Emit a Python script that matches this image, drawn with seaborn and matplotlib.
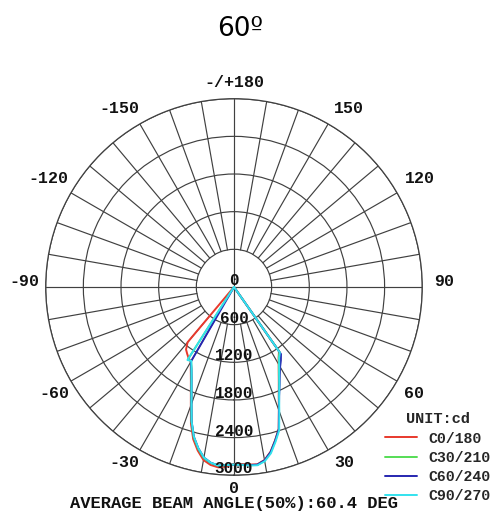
import numpy as np
import pandas as pd
import matplotlib
matplotlib.use("Agg")
import matplotlib.pyplot as plt
import seaborn as sns

# gamma angles (deg) of each half plane, intensities in cd
gamma = [0, 2.5, 5, 7.5, 10, 12.5, 15, 17.5, 20, 22.5, 25, 27.5, 30, 32.5, 35, 37.5, 40, 42.5]

c0 = [2820, 2825, 2840, 2850, 2800, 2690, 2530, 2370, 2090, 1865, 1690, 1545, 1425, 1325, 1250, 0, 0, 0]
c180 = [2820, 2865, 2885, 2860, 2800, 2670, 2510, 2280, 2010, 1795, 1625, 1490, 1375, 1345, 1300, 1255, 1150, 0]
c30 = [2830, 2835, 2850, 2860, 2810, 2700, 2540, 2380, 2100, 1870, 1700, 1550, 1430, 1330, 1265, 0, 0, 0]
c210 = [2830, 2840, 2860, 2830, 2770, 2640, 2480, 2250, 1985, 1775, 1605, 1470, 1365, 1365, 0, 0, 0, 0]
c60 = [2830, 2835, 2850, 2855, 2805, 2695, 2535, 2375, 2095, 1880, 1720, 1580, 1470, 1390, 1305, 0, 0, 0]
c240 = [2830, 2840, 2855, 2825, 2760, 2630, 2470, 2245, 1980, 1770, 1600, 1470, 1375, 0, 0, 0, 0, 0]
c90 = [2835, 2840, 2855, 2865, 2820, 2715, 2555, 2395, 2110, 1880, 1710, 1560, 1440, 1340, 1275, 0, 0, 0]
c270 = [2830, 2840, 2855, 2825, 2760, 2630, 2470, 2245, 1980, 1770, 1600, 1465, 1360, 1380, 0, 0, 0, 0]

planes = ["C0/180", "C30/210", "C60/240", "C90/270"]
halves = {"C0/180": (c0, c180), "C30/210": (c30, c210),
          "C60/240": (c60, c240), "C90/270": (c90, c270)}
colors = ["#e8392c", "#55dd55", "#2626b0", "#33e2ee"]

ring_values = [600, 1200, 1800, 2400, 3000]
angle_labels = ["0", "30", "60", "90", "120", "150", "-/+180",
                "-150", "-120", "-90", "-60", "-30"]
# where each angle label sits (deg, radius in cd units)
label_pos = [(0, 3218), (32, 3306), (59.5, 3330), (91.4, 3346), (120.3, 3425),
             (147.2, 3378), (180, 3250), (212.8, 3378), (239.7, 3425),
             (268.6, 3346), (300.5, 3330), (328, 3306)]

rows = []
for name in planes:
    right, left = halves[name]
    th = [-g for g in gamma[::-1]] + gamma[1:]
    cd = left[::-1] + right[1:]
    for t, v in zip(th, cd):
        rows.append({"theta": np.deg2rad(t), "cd": v, "plane": name})
df = pd.DataFrame(rows)

sns.set_theme(style="white")
mono = "Liberation Mono"
grid_c = "#404040"

fig = plt.figure(figsize=(4.94, 5.11), dpi=100)
ax = fig.add_axes([0.0925, 0.0699, 0.7623, 0.737], projection="polar")
ax.set_theta_zero_location("S")
ax.set_theta_direction(1)

sns.lineplot(data=df, x="theta", y="cd", hue="plane", hue_order=planes,
             palette=colors, sort=False, estimator=None, linewidth=1.4,
             legend=False, ax=ax, zorder=3)
curves = list(ax.get_lines())

ax.set_ylim(0, 3000)
ax.set_yticks(ring_values)
ax.set_yticklabels([])
ax.yaxis.grid(True, color=grid_c, linewidth=0.85)
ax.xaxis.grid(False)
ax.spines["polar"].set_color(grid_c)
ax.spines["polar"].set_linewidth(0.9)
ax.set_xlabel("")
ax.set_ylabel("")

# spokes every 10 deg, only the axes cross the centre
for a in range(0, 360, 10):
    r0 = 0 if a % 90 == 0 else 600
    ax.plot([np.deg2rad(a)] * 2, [r0, 3000], color=grid_c, lw=0.85, zorder=1)

ax.set_xticks(np.deg2rad(range(0, 360, 30)))
ax.set_xticklabels([])
ax.tick_params(axis="x", length=0)
for (a, r), lab in zip(label_pos, angle_labels):
    ax.text(np.deg2rad(a), r, lab, ha="center", va="center", clip_on=False,
            fontfamily=mono, fontweight="bold", fontsize=12, color="#111111")

for v in [0] + ring_values:
    ax.annotate(str(v), xy=(0, v), xytext=(0, 4.7), textcoords="offset points",
                ha="center", va="center", fontfamily=mono, fontweight="bold",
                fontsize=11.5, color="#111111", zorder=5)

leg = ax.legend(curves, planes, loc="upper right",
                bbox_to_anchor=(498 / 494, 1 - 405 / 511), bbox_transform=fig.transFigure,
                frameon=False, title="UNIT:cd", alignment="center",
                prop={"family": mono, "weight": "bold", "size": 10.7},
                title_fontproperties={"family": mono, "weight": "bold", "size": 11},
                handlelength=2.15, handletextpad=0.75, labelspacing=0.35, borderpad=0)

fig.text(234 / 494, 1 - 503 / 511, "AVERAGE BEAM ANGLE(50%):60.4 DEG", ha="center",
         va="center", fontfamily=mono, fontweight="bold", fontsize=12.3, color="#111111")
fig.text(240 / 494, 1 - 36 / 511, "60º", ha="center", va="baseline",
         fontfamily="DejaVu Sans", fontsize=19, color="black")

fig.savefig("out.png", dpi=100)
